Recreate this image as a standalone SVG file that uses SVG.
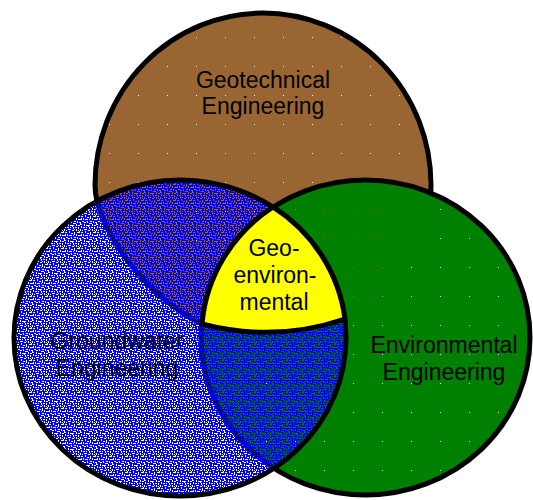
<svg xmlns="http://www.w3.org/2000/svg" width="533" height="500" viewBox="0 0 533 500">
<style>
.lbl{font-family:"Liberation Sans",Arial,sans-serif;font-size:23px;fill:#000;text-anchor:middle}
.edge{stroke:#000;stroke-width:5}
</style>
<defs>
<pattern id="pBrown" patternUnits="userSpaceOnUse" x="22" y="8" width="29" height="29">
<path fill="#996633" fill-rule="evenodd" d="M0 0H29V29H0Z M0 0h1v1h-1z"/>
</pattern>
<pattern id="pGreen" patternUnits="userSpaceOnUse" x="5" y="6" width="29" height="29">
<path fill="#008000" fill-rule="evenodd" d="M0 0H29V29H0Z M0 0h1v1h-1z"/>
</pattern>
<pattern id="pBlue" patternUnits="userSpaceOnUse" width="16" height="16">
<path fill="#0000FF" fill-rule="evenodd" d="M0 0H16V16H0Z
M0 0h2v1h-2z M4 0h1v2h-1z M7 1h3v1h-3z M12 0h1v2h-1z M14 1h2v1h-2z
M1 2h1v2h-1z M3 3h2v1h-2z M9 3h1v2h-1z M11 3h2v1h-2z M6 3h1v1h-1z M14 3h1v2h-1z
M0 5h1v2h-1z M4 5h3v1h-3z M8 6h2v1h-2z M12 5h1v2h-1z M2 6h1v1h-1z
M5 7h1v2h-1z M10 8h1v2h-1z M13 8h2v1h-2z M1 8h2v1h-2z M7 9h2v1h-2z M15 7h1v2h-1z
M3 10h1v2h-1z M12 10h1v2h-1z M0 11h2v1h-2z M5 11h3v1h-3z M9 11h1v1h-1z M14 11h2v1h-2z
M2 13h2v1h-2z M7 13h1v2h-1z M10 13h2v1h-2z M13 13h1v2h-1z M0 14h1v2h-1z M4 14h2v1h-2z
M9 15h3v1h-3z M15 14h1v1h-1z M6 1h1v1h-1z M10 5h1v1h-1z M8 2h1v1h-1z M2 10h-1v1h1z M11 10h-1v1h1z M14 6h1v1h-1z"/>
</pattern>
</defs>
<g id="geotechnical">
<path class="edge" fill="url(#pBrown)" d="M95 185 A168 172 0 0 1 431 185 C431 240 390 300 345 319 A250 250 0 0 1 202 324 C150 300 95 230 95 185 Z"/>
<text class="lbl" x="263" y="88">Geotechnical</text>
<text class="lbl" x="263" y="114">Engineering</text>
</g>
<g id="environmental">
<ellipse class="edge" fill="url(#pGreen)" cx="365.5" cy="337.5" rx="164.5" ry="157.5"/>
<text class="lbl" x="444" y="353">Environmental</text>
<text class="lbl" x="444" y="380">Engineering</text>
</g>
<g id="groundwater">
<ellipse class="edge" fill="url(#pBlue)" cx="180" cy="338" rx="166" ry="158"/>
<text class="lbl" x="117" y="349">Groundwater</text>
<text class="lbl" x="117" y="376">Engineering</text>
</g>
<g id="geoenvironmental">
<path class="edge" fill="#FFFF00" stroke-linejoin="miter" d="M273 207 A164.5 157.5 0 0 0 202 324 A250 250 0 0 0 345 319 A166 158 0 0 0 273 207 Z"/>
<text class="lbl" x="274" y="256">Geo-</text>
<text class="lbl" x="275" y="283">environ-</text>
<text class="lbl" x="274" y="310">mental</text>
</g>
</svg>
